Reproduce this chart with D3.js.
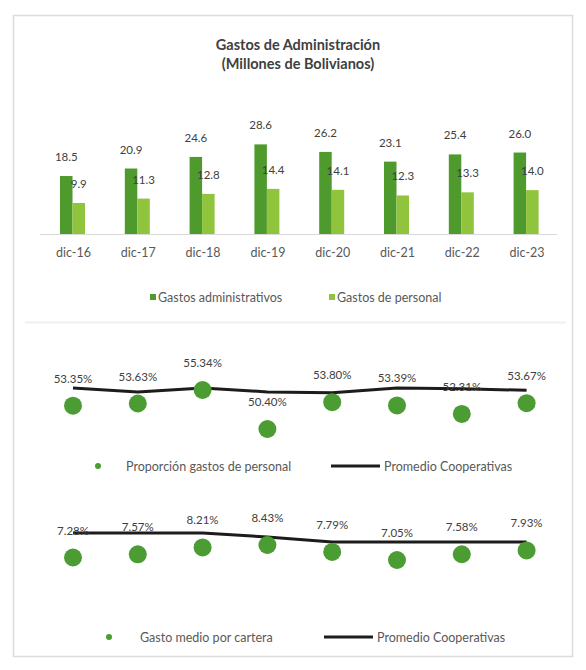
<!DOCTYPE html>
<html>
<head>
<meta charset="utf-8">
<script src="https://cdn.jsdelivr.net/npm/d3@7"></script>
<style>
  html, body { margin: 0; padding: 0; background: #ffffff; }
  svg { display: block; font-family: Lato, "Open Sans", sans-serif; }
</style>
</head>
<body>
<svg id="chart" width="586" height="670"></svg>
<script>
// Periods shown on every panel
const periods = ["dic-16", "dic-17", "dic-18", "dic-19", "dic-20", "dic-21", "dic-22", "dic-23"];

// Panel 1: expenses in millions of bolivianos
const gastosAdministrativos = [18.5, 20.9, 24.6, 28.6, 26.2, 23.1, 25.4, 26.0];
const gastosPersonal = [9.9, 11.3, 12.8, 14.4, 14.1, 12.3, 13.3, 14.0];

// Panel 2: share of personnel expenses (%)
const proporcionPersonal = [53.35, 53.63, 55.34, 50.40, 53.80, 53.39, 52.31, 53.67];
const promedioProporcion = [55.6, 55.1, 55.6, 55.1, 55.0, 55.6, 55.5, 55.3];

// Panel 3: average expense over portfolio (%)
const gastoCartera = [7.28, 7.57, 8.21, 8.43, 7.79, 7.05, 7.58, 7.93];
const promedioCartera = [9.53, 9.53, 9.53, 9.17, 8.71, 8.71, 8.71, 8.71];

const colDark = "#4f9a2c";
const colLight = "#8fc43c";
const colMarker = "#4c9c34";
const colText = "#404040";
const colAxisText = "#595959";

const svg = d3.select("#chart");

// outer frame and panel divider
svg.append("rect").attr("x", 13.5).attr("y", 15.5).attr("width", 559).attr("height", 641)
  .attr("fill", "none").attr("stroke", "#dcdcdc").attr("stroke-width", 1.5);
svg.append("line").attr("x1", 25).attr("x2", 566).attr("y1", 322.5).attr("y2", 322.5)
  .attr("stroke", "#efefef").attr("stroke-width", 2);

// shared horizontal scale
const x = d3.scalePoint().domain(periods).range([73, 526.6]);

// ---------- Panel 1: bars ----------
svg.append("text").attr("x", 298).attr("y", 50).attr("text-anchor", "middle")
  .attr("font-size", 14.5).attr("font-weight", "bold").attr("fill", "#404040")
  .text("Gastos de Administración");
svg.append("text").attr("x", 298).attr("y", 69).attr("text-anchor", "middle")
  .attr("font-size", 14.5).attr("font-weight", "bold").attr("fill", "#404040")
  .text("(Millones de Bolivianos)");

const y1 = d3.scaleLinear().domain([0, 30]).range([234, 140]);
const barW = 12.5;

svg.append("line").attr("x1", 40).attr("x2", 557).attr("y1", 234.5).attr("y2", 234.5)
  .attr("stroke", "#d9d9d9").attr("stroke-width", 1);

const g1 = svg.append("g");
g1.selectAll("rect.adm").data(gastosAdministrativos).join("rect")
  .attr("class", "adm")
  .attr("x", (d, i) => x(periods[i]) - barW - 0.5)
  .attr("y", d => y1(d)).attr("width", barW).attr("height", d => y1(0) - y1(d))
  .attr("fill", colDark);
g1.selectAll("rect.per").data(gastosPersonal).join("rect")
  .attr("class", "per")
  .attr("x", (d, i) => x(periods[i]) - 0.5)
  .attr("y", d => y1(d)).attr("width", barW).attr("height", d => y1(0) - y1(d))
  .attr("fill", colLight);
g1.selectAll("text.adm").data(gastosAdministrativos).join("text")
  .attr("class", "adm").attr("text-anchor", "middle").attr("font-size", 11.5).attr("fill", colText)
  .attr("x", (d, i) => x(periods[i]) - barW / 2 - 0.5).attr("y", d => y1(d) - 15)
  .text(d => d.toFixed(1));
g1.selectAll("text.per").data(gastosPersonal).join("text")
  .attr("class", "per").attr("text-anchor", "middle").attr("font-size", 11.5).attr("fill", colText)
  .attr("x", (d, i) => x(periods[i]) + barW / 2 - 0.5).attr("y", d => y1(d) - 15)
  .text(d => d.toFixed(1));

const xAxis = svg.append("g").attr("transform", "translate(0,234)")
  .call(d3.axisBottom(x).tickSize(0).tickPadding(14));
xAxis.select(".domain").remove();
xAxis.selectAll("text").attr("font-size", 12.5).attr("fill", colAxisText)
  .attr("font-family", "Lato, sans-serif");

// legend panel 1
const leg1 = [
  { label: "Gastos administrativos", color: colDark, x: 150 },
  { label: "Gastos de personal", color: colLight, x: 329 }
];
leg1.forEach(l => {
  svg.append("rect").attr("x", l.x).attr("y", 294).attr("width", 6).attr("height", 6).attr("fill", l.color);
  svg.append("text").attr("x", l.x + 8).attr("y", 301.5).attr("font-size", 12.5).attr("fill", colAxisText).text(l.label);
});

// ---------- Point + average line panels ----------
function pointPanel(values, avg, yScale, fmt, legendY, legend) {
  const g = svg.append("g");
  const line = d3.line().x((d, i) => x(periods[i])).y(d => yScale(d));
  g.append("path").datum(avg).attr("d", line).attr("fill", "none")
    .attr("stroke", "#1c1c1c").attr("stroke-width", 3).attr("stroke-linejoin", "round");
  g.selectAll("circle").data(values).join("circle")
    .attr("cx", (d, i) => x(periods[i])).attr("cy", d => yScale(d)).attr("r", 9)
    .attr("fill", colMarker);
  g.selectAll("text").data(values).join("text")
    .attr("text-anchor", "middle").attr("font-size", 11.5).attr("fill", colText)
    .attr("x", (d, i) => x(periods[i])).attr("y", d => yScale(d) - 23)
    .text(fmt);

  svg.append("circle").attr("cx", legend.dotX).attr("cy", legendY).attr("r", 3).attr("fill", colMarker);
  svg.append("text").attr("x", legend.textX).attr("y", legendY + 4.5).attr("font-size", 12.5)
    .attr("fill", colAxisText).text(legend.label);
  svg.append("line").attr("x1", legend.lineX).attr("x2", legend.lineX + 49)
    .attr("y1", legendY).attr("y2", legendY).attr("stroke", "#1c1c1c").attr("stroke-width", 3);
  svg.append("text").attr("x", legend.lineX + 53).attr("y", legendY + 4.5).attr("font-size", 12.5)
    .attr("fill", colAxisText).text("Promedio Cooperativas");
}

const y2 = d3.scaleLinear().domain([50.40, 55.34]).range([429, 390]);
pointPanel(proporcionPersonal, promedioProporcion, y2, d => d.toFixed(2) + "%", 466,
  { dotX: 98, textX: 126, lineX: 331, label: "Proporción gastos de personal" });

const y3 = d3.scaleLinear().domain([7.05, 8.43]).range([560, 545]);
pointPanel(gastoCartera, promedioCartera, y3, d => d.toFixed(2) + "%", 637,
  { dotX: 109, textX: 140, lineX: 324, label: "Gasto medio por cartera" });
</script>
</body>
</html>
